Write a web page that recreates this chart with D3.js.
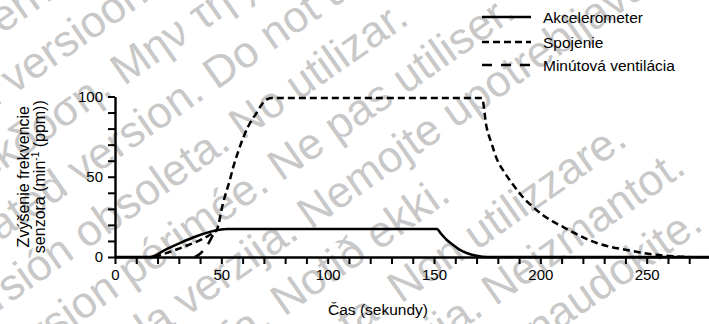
<!DOCTYPE html>
<html><head><meta charset="utf-8">
<script src="https://cdn.jsdelivr.net/npm/d3@7"></script>
<style>body{margin:0;background:#fff;} svg{display:block;} text{font-family:"Liberation Sans",Arial,sans-serif;}</style>
</head><body>
<svg id="chart" width="709" height="324"></svg>
<script>
// ---------- data ----------
const seriesNames = ["Akcelerometer", "Spojenie", "Minútová ventilácia"];
const akcelTime  = [0, 16.5, 24, 31, 38, 45, 49, 53, 151.4, 153, 156, 158.5, 162, 166, 170, 175, 280];
const akcelValue = [0, 0, 4.8, 9, 12.8, 15.8, 17, 17.5, 17.5, 15, 10.6, 8, 4.6, 2.2, 0.8, 0, 0];
const spojTime  = [18.5, 25, 32, 40, 46, 47.8, 50.8, 54, 55.5, 58, 62.5, 66.8, 69, 71.5, 74, 172.5, 174.7, 177, 179.4, 183, 187.2, 191, 196, 201, 206, 211, 218, 226.5, 233, 240.6, 248, 256, 263, 270];
const spojValue = [0, 2.8, 6.2, 10.5, 15, 16.8, 33.6, 48, 55.5, 66, 81, 90.3, 95, 98.3, 99, 99, 81, 71, 61.5, 53, 45, 38.5, 31.8, 26.3, 22, 18.5, 13.5, 8.7, 6.3, 4.4, 2.6, 1.2, 0.4, 0];
const mvTime  = [37.5, 40, 43, 46.5];
const mvValue = [0, 2, 6.5, 14.8];
const xTickValues = d3.range(0, 280, 10);
const xTickLabels = [0, 50, 100, 150, 200, 250];
const yTickValues = d3.range(0, 101, 10);
const yTickLabels = [0, 50, 100];
const xTitle = "Čas (sekundy)";
const yTitle1 = "Zvýšenie frekvencie";
const yTitle2a = "senzora (min", yTitle2sup = "-1", yTitle2b = " (ppm))";
const wmLines = [
  "Überholte Version. Nicht verwenden.",
  "Aegunud versioon. Ärge kasutage.",
  "Παλιά έκδοση. Μην τη χρησιμοποιείτε.",
  "Outdated version. Do not use.",
  "Versión obsoleta. No utilizar.",
  "Version périmée. Ne pas utiliser.",
  "Zastarjela verzija. Nemojte upotrebljavati.",
  "Úrelt útgáfa. Notið ekki.",
  "Versione obsoleta. Non utilizzare.",
  "Novecojusi versija. Neizmantot.",
  "Pasenusi versija. Nenaudokite."
];
const wmAnchors = ["erholte", "versioon", "Μην", "Do", "No", "Ne", "Nemojte", "ekki", "utilizzare", "Neizmantot", "Nenaudokite"];

// ---------- layout ----------
const wmAnchorS = [-18, -43, 52, 125.6, 118, 126, 122.6, 166, 247, 230, 187];
const wmT0 = 198, wmStep = 56.2, wmK0 = -3;

const svg = d3.select("#chart");
const x = d3.scaleLinear().domain([0, 280]).range([115, 710.5]);
const y = d3.scaleLinear().domain([0, 100]).range([257, 96.5]);

// watermark
const wm = svg.append("g").attr("transform", "rotate(-35)");
wmLines.forEach((s, i) => {
  const t = wm.append("text").text(s)
    .attr("font-size", 44).attr("fill", "#c8c8c8")
    .attr("y", wmT0 + wmStep * (i + wmK0));
  const idx = s.indexOf(wmAnchors[i]);
  const pre = idx > 0 ? t.node().getSubStringLength(0, idx) : 0;
  t.attr("x", wmAnchorS[i] - pre);
});

// axes
const xAxis = d3.axisBottom(x).tickValues(xTickValues).tickSize(7).tickSizeOuter(0).tickPadding(5)
  .tickFormat(d => xTickLabels.includes(d) ? d : "");
const gx = svg.append("g").attr("transform", `translate(0,${y(0)})`).call(xAxis);
const yAxis = d3.axisLeft(y).tickValues(yTickValues).tickSize(7).tickSizeOuter(0).tickPadding(5)
  .tickFormat(d => yTickLabels.includes(d) ? d : "");
const gy = svg.append("g").attr("transform", `translate(${x(0)},0)`).call(yAxis);
[gx, gy].forEach(g => {
  g.select(".domain").attr("stroke", "#000").attr("stroke-width", 2.4);
  g.selectAll(".tick line").attr("stroke", "#000").attr("stroke-width", 2);
  g.selectAll(".tick text").attr("fill", "#000").attr("font-size", 15)
    .attr("font-family", '"Liberation Sans",Arial,sans-serif');
});

// lines
const line = d3.line().x(d => x(d[0])).y(d => y(d[1])).curve(d3.curveMonotoneX);
const dashes = [null, "7,4", "10,9"];
const datasets = [
  d3.zip(akcelTime, akcelValue),
  d3.zip(spojTime, spojValue),
  d3.zip(mvTime, mvValue)
];
datasets.forEach((ds, i) => {
  svg.append("path").datum(ds).attr("d", line)
    .attr("fill", "none").attr("stroke", "#000").attr("stroke-width", 2.5)
    .attr("stroke-dasharray", dashes[i]);
});

// legend
const legY = [17, 42, 65];
seriesNames.forEach((n, i) => {
  svg.append("line").attr("x1", 482).attr("x2", 531).attr("y1", legY[i]).attr("y2", legY[i])
    .attr("stroke", "#000").attr("stroke-width", 2.5).attr("stroke-dasharray", dashes[i]);
  svg.append("text").attr("x", 543).attr("y", legY[i] + 5.5).attr("font-size", 15.5).text(n);
});

// titles
svg.append("text").attr("x", 378).attr("y", 315).attr("text-anchor", "middle")
  .attr("font-size", 15.5).text(xTitle);
const yt = svg.append("text").attr("transform", "translate(29,176.7) rotate(-90)")
  .attr("text-anchor", "middle").attr("font-size", 16);
yt.append("tspan").attr("x", 0).attr("y", 0).text(yTitle1);
const yt2 = svg.append("text").attr("transform", "translate(45,176.7) rotate(-90)")
  .attr("text-anchor", "middle").attr("font-size", 16);
yt2.append("tspan").text(yTitle2a);
yt2.append("tspan").attr("font-size", 10).attr("dy", -6).text(yTitle2sup);
yt2.append("tspan").attr("dy", 6).text(yTitle2b);
</script>
</body></html>
